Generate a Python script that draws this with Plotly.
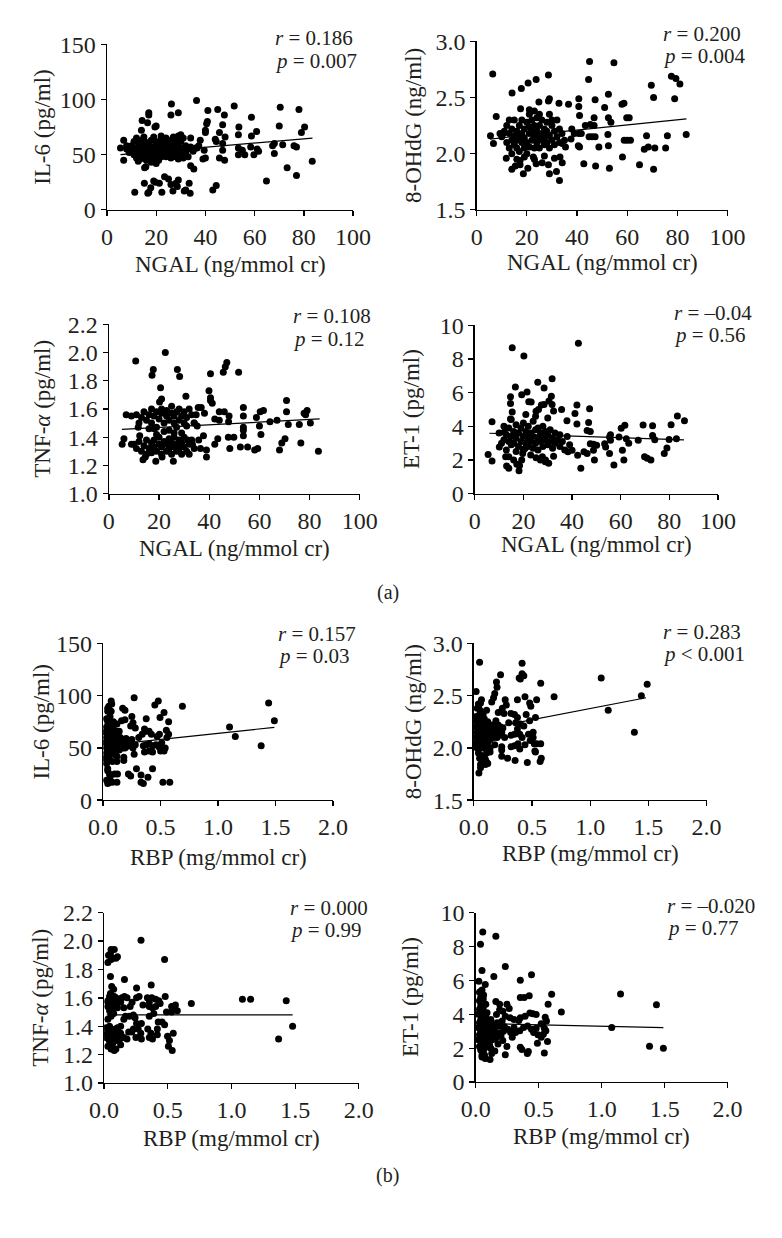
import plotly.graph_objects as go

W, H = 782, 1238
FONT = "Liberation Serif"
INK = "#231f20"

# ---------------- data ----------------
NGAL_TICKS = [0, 20, 40, 60, 80, 100]
RBP_TICKS = [0.0, 0.5, 1.0, 1.5, 2.0]
IL6_TICKS = [0, 50, 100, 150]
OHDG_TICKS = [1.5, 2.0, 2.5, 3.0]
TNF_TICKS = [1.0, 1.2, 1.4, 1.6, 1.8, 2.0, 2.2]
ET1_TICKS = [0, 2, 4, 6, 8, 10]

IL6_VS_NGAL = [
    (5.5,56),(6.8,63),(6.8,45),(8,58),(26.2,96),(36.4,99),(26,86),(29,88),(17,88),(17,86),(14.3,81),(16.5,79),
    (20,76),(19.5,75),(40.5,78),(40.8,80),(41,90),(45,91),(47.7,86),(51.7,94),(58.7,84),(70.4,93),(78,91),(80.3,75),
    (79,70),(70,76),(73.2,38),(77,31),(83.4,44),(64.8,26),(71.4,59),(68,51),(67.3,58),(58.7,67),(60.8,71),(61.6,53),
    (59.7,50),(56,50),(53.4,68),(53.4,56),(53.6,75),(55,54),(58.4,57),(61,55),(53.4,50),(48,66),(47,54),(47.8,45),
    (45.7,47),(47,60),(44.4,62),(44,64),(45.7,70),(47,77),(40,70),(40,72),(40,47),(39,46),(39.5,54),(37.9,63),(34,65),
    (34,40),(35.3,37),(33.4,24),(33.8,15),(32,18),(31.4,17),(29,27),(28.6,21),(28,24),(26.8,17),(26,23),(25,28),
    (23.4,30),(22.3,16),(21.3,24),(19.7,25),(19,26),(17.8,20),(17,16),(16.6,15),(15.2,24),(11.3,16),(44.4,22),(43,18),
    (15.3,38),(15.8,39),(15.2,48),(13.5,46),(12,47),(12.7,44),(36.6,56),(37.3,58),(76,58),(77,57),(68,60),
    (8,55),(9,52),(10,58),(11,50),(11,62),(12,56),(12,65),(13,48),(13,53),(13,60),(14,55),(14,72),(14,58),(15,50),
    (15,62),(15,66),(16,52),(16,57),(16,45),(17,60),(17,55),(17,50),(18,63),(18,48),(18,57),(19,52),(19,66),(19,44),
    (20,55),(20,60),(20,50),(21,62),(21,57),(21,45),(22,53),(22,67),(22,48),(23,58),(23,52),(23,62),(24,55),(24,48),
    (24,65),(25,57),(25,51),(25,60),(26,54),(26,47),(26,63),(27,58),(27,50),(27,66),(28,55),(28,48),(28,60),(29,53),
    (29,57),(30,50),(30,62),(30,68),(31,55),(31,47),(32,52),(32,58),(33,55),(33,48),(34,57),(35,53),(36,56),(24,58),
    (22,56),(20,47),(26,58),(18,53),(16,61),(14,63),(12,52),(10,54),(28,64),(29,67),(30,56),(21,52),(23,49),(25,54),
    (27,54),(20,42),(18,43),(31,65),(29,46),
]
IL6_NGAL_FIT = [(5.5, 50.0), (83.5, 65.0)]

OHDG_VS_NGAL = [
    (6.4,2.71),(7.8,2.33),(6.7,2.09),(5.5,2.16),(14.1,2.54),(17.8,2.58),(20.5,2.63),(23.7,2.66),(28.6,2.70),(28.6,2.47),
    (29,2.49),(24.8,2.46),(21,2.39),(17.5,2.40),(23,2.38),(29,2.35),(32.8,2.45),(36.6,2.44),(40.7,2.49),(40.7,2.42),
    (41,2.34),(45,2.82),(44.6,2.66),(54.7,2.81),(47.2,2.48),(52.5,2.53),(46.8,2.32),(52.5,2.32),(51,2.41),(57.9,2.44),
    (58.7,2.45),(59.8,2.32),(60.8,2.32),(69.6,2.61),(70.5,2.5),(77.6,2.69),(79.4,2.67),(81,2.62),(78.9,2.49),(76,2.16),
    (83.5,2.17),(67.7,2.16),(68.4,2.06),(66.8,2.04),(71,2.05),(75.3,2.05),(64.9,1.9),(70.5,1.86),(58.8,2.12),(60,2.12),
    (61.3,2.12),(58.1,1.97),(52.5,2.07),(52.9,1.87),(52.3,2.17),(53.5,2.28),(48.7,2.06),(47.4,1.89),(42.7,1.91),(41,2.06),
    (40.5,2.07),(40.7,2.18),(41.7,2.18),(43.3,2.25),(45.3,2.26),(46.8,2.25),(47.2,2.15),(44.8,2.15),(46,2.15),(37.9,2.22),
    (38.9,2.18),(37.6,2.13),(34.1,2.09),(35.4,2.06),(33.2,1.97),(34.1,1.92),(33,1.76),(31.8,1.84),(29,1.82),(28.6,1.9),
    (26.1,1.92),(23.7,1.91),(22.6,1.97),(20.4,1.87),(18.6,1.82),(17.3,1.9),(17.3,1.94),(15.4,1.89),(14,1.86),(11.8,1.96),
    (9.3,2.18),(10.6,2.18),
    (10,2.15),(11,2.2),(12,2.1),(12,2.25),(13,2.05),(13,2.18),(14,2.12),(14,2.22),(14,2.0),(15,2.08),(15,2.3),(15,2.16),
    (16,2.05),(16,2.2),(16,2.12),(17,2.25),(17,2.02),(17,2.15),(18,2.1),(18,2.3),(18,2.18),(19,2.05),(19,2.22),(19,2.14),
    (20,2.28),(20,2.1),(20,2.0),(21,2.18),(21,2.24),(21,2.06),(22,2.12),(22,2.3),(22,2.2),(23,2.15),(23,2.05),(23,2.25),
    (24,2.1),(24,2.2),(24,2.32),(25,2.15),(25,2.05),(25,2.25),(26,2.12),(26,2.18),(26,2.3),(27,2.08),(27,2.22),(27,2.15),
    (28,2.1),(28,2.28),(28,2.2),(29,2.05),(29,2.16),(30,2.12),(30,2.25),(30,2.3),(31,2.2),(31,2.08),(32,2.15),(32,2.3),
    (33,2.1),(33,2.22),(34,2.18),(35,2.12),(19,1.97),(23,1.95),(27,1.98),(31,1.96),(16,1.95),(13,2.3),(21,2.35),(25,2.35),
]
OHDG_NGAL_FIT = [(5.3, 2.13), (83.6, 2.31)]

TNF_VS_NGAL = [
    (10.7,1.94),(22.5,2.0),(17.7,1.88),(17.2,1.84),(27.3,1.88),(28.2,1.83),(20.6,1.75),(21,1.67),(20.2,1.65),(30.7,1.69),
    (39.9,1.73),(40.5,1.68),(40.5,1.66),(41.2,1.64),(40.5,1.85),(45.6,1.86),(46.4,1.90),(47,1.93),(51.7,1.86),(6.9,1.56),
    (6,1.39),(5.3,1.35),(9,1.35),(11.7,1.47),(12.3,1.41),(13.6,1.24),(14.5,1.26),(18.7,1.23),(25.7,1.23),(21.2,1.26),
    (35.8,1.38),(36.5,1.32),(38.9,1.26),(38.9,1.31),(37.7,1.41),(42.2,1.35),(43.4,1.39),(48.2,1.32),(49.8,1.40),(47.6,1.40),
    (53.6,1.55),(53.6,1.61),(53.6,1.45),(53.6,1.47),(53.6,1.41),(52.4,1.33),(55.3,1.33),(58.1,1.31),(59.3,1.32),(60,1.48),
    (60.6,1.42),(60.3,1.58),(61.6,1.59),(58.8,1.54),(64.2,1.51),(67,1.52),(68,1.31),(68.9,1.36),(70.2,1.39),(70.8,1.58),
    (70.8,1.66),(71.5,1.49),(75.9,1.49),(76.5,1.36),(77.8,1.57),(79,1.59),(78.4,1.56),(80.3,1.50),(83.5,1.30),
    (42.2,1.53),(44,1.58),(46,1.58),(47.9,1.55),(47.7,1.51),(44,1.52),(38.1,1.57),(36.8,1.61),(35.6,1.61),(34.8,1.56),
    (34,1.50),(35.2,1.48),(33.3,1.35),(32,1.28),(31.4,1.38),
    (9,1.55),(11,1.56),(12,1.5),(13,1.54),(14,1.58),(15,1.52),(16,1.56),(17,1.6),(17,1.5),(18,1.55),(19,1.58),(19,1.47),
    (20,1.53),(21,1.57),(21,1.6),(22,1.5),(23,1.55),(23,1.59),(24,1.52),(25,1.57),(25,1.62),(26,1.5),(26,1.55),(27,1.58),
    (28,1.52),(28,1.6),(29,1.55),(30,1.5),(30,1.58),(31,1.54),(32,1.6),(33,1.56),(34,1.5),(24,1.45),(18,1.46),(27,1.47),
    (31,1.48),(22,1.44),(16,1.46),(29,1.43),
    (10,1.35),(11,1.32),(12,1.37),(13,1.3),(14,1.34),(15,1.38),(15,1.28),(16,1.32),(17,1.36),(17,1.29),(18,1.33),(18,1.38),
    (19,1.3),(20,1.35),(20,1.4),(21,1.28),(21,1.33),(22,1.37),(23,1.3),(23,1.35),(24,1.39),(24,1.32),(25,1.28),(25,1.36),
    (26,1.33),(26,1.4),(27,1.3),(27,1.35),(28,1.38),(28,1.32),(29,1.28),(29,1.36),(30,1.33),(30,1.4),(31,1.3),(32,1.35),
    (33,1.38),(34,1.32),(19,1.42),(26,1.43),
]
TNF_NGAL_FIT = [(5.2, 1.455), (84.0, 1.53)]

ET1_VS_NGAL = [
    (15.4,8.66),(20.2,8.17),(42.6,8.93),(31.8,6.82),(25.9,6.62),(28.5,6.27),(16.7,6.33),(14.7,5.75),(19.3,5.88),(21.5,6.04),
    (22.2,5.46),(23.2,5.44),(31.5,5.79),(30.5,5.5),(31.8,5.3),(32.4,4.91),(26.2,5.0),(27.4,5.26),(28.5,5.3),(25.2,4.9),
    (42,5.26),(41.2,4.76),(47.2,5.05),(35.7,5.0),(37.9,4.33),(42,4.14),(46.8,4.23),(46.2,3.75),(47.5,3.69),(47.5,2.97),
    (48.8,2.58),(49.2,2.0),(43.6,1.51),(42.3,2.29),(40,2.58),(38.3,2.49),(44.9,2.49),(46.2,2.39),(48.8,2.93),(50.1,2.87),
    (53.4,2.97),(53.8,2.78),(55.4,3.36),(55.8,3.17),(55.4,2.39),(57.2,1.71),(55.8,3.5),(59.3,3.36),(60.2,3.88),(61.7,4.07),
    (61.3,2.0),(60.7,2.58),(62.3,3.26),(63.3,3.0),(67.2,3.17),(69.2,4.08),(69.8,2.19),(70.9,2.1),(72.4,2.0),(73.1,4.04),
    (73.1,3.46),(74,3.2),(77.9,2.39),(79,2.72),(79.9,3.22),(80.7,4.1),(82.9,3.26),(83.3,4.62),(86.2,4.33),(5.5,2.33),
    (7.1,4.27),(7.1,1.94),(10.1,2.78),(12.1,3.65),(12.7,2.19),(13.1,1.65),(14,1.51),(18.2,1.36),(18.4,1.67),(17.3,1.75),
    (19.3,2.0),(19.7,2.39),(20.6,2.68),(25.2,2.14),(27.8,2.19),(29.1,2.0),(30.4,1.81),(32.4,2.23),(14.7,5.36),(15.4,4.85),
    (14.7,4.43),
    (10,3.6),(11,3.0),(12,3.2),(12,4.0),(13,2.6),(13,3.5),(14,3.1),(14,3.9),(15,2.9),(15,3.4),(15,4.4),(16,3.0),(16,3.7),
    (17,2.5),(17,3.3),(17,4.1),(18,2.8),(18,3.6),(19,3.1),(19,3.9),(20,2.6),(20,3.4),(20,4.2),(21,3.0),(21,3.7),(22,2.8),
    (22,3.3),(22,4.0),(23,3.1),(23,3.6),(24,2.7),(24,3.4),(24,4.3),(25,3.0),(25,3.8),(26,2.6),(26,3.3),(26,3.9),(27,3.1),
    (27,3.6),(28,2.8),(28,3.4),(28,4.0),(29,3.2),(29,3.7),(30,2.9),(30,3.5),(31,3.1),(31,3.8),(32,2.7),(32,3.3),(33,3.0),
    (33,3.6),(34,3.2),(35,2.8),(35,3.5),(36,3.1),(37,2.6),(38,3.4),(39,2.9),(14,2.2),(16,2.0),(23,2.3),(27,2.0),(29,1.9),
    (25,4.6),(30,4.5),(21,4.7),
]
ET1_NGAL_FIT = [(6.0, 3.59), (86.0, 3.20)]

IL6_VS_RBP = [
    (0.27,98),(0.48,95),(0.45,91),(0.69,90),(0.07,95),(0.075,92),(0.04,88),(0.17,88),(0.19,86),(0.07,85),(0.25,80),
    (0.375,78),(0.495,79),(0.53,84),(0.57,75),(0.16,76),(0.19,77),(0.26,74),(0.24,71),(0.28,69),(0.36,68),(0.375,66),
    (0.4,66),(0.42,63),(0.49,63),(0.55,67),(0.57,63),(0.555,60),(0.47,61),(0.34,63),(0.31,60),(0.28,53),(0.35,52),
    (0.375,53),(0.4,54),(0.43,52),(0.46,53),(0.485,51),(0.51,55),(0.54,50),(0.53,47),(0.5,47),(0.43,46),(0.4,47),
    (0.36,46),(0.27,44),(0.26,50),(0.19,50),(0.18,41),(0.18,38),(0.12,42),(0.12,37),(0.08,37),(0.05,39),(0.29,30),
    (0.43,30),(0.22,25),(0.24,23),(0.33,24),(0.33,17),(0.35,16),(0.39,22),(0.52,17),(0.58,17),(0.04,28),(0.055,25),
    (0.1,25),(0.125,25),(0.04,16),(0.055,17),(0.08,17),(0.12,17),(0.06,22),(0.03,19),
    (1.1,70),(1.15,61),(1.375,52),(1.44,93),(1.49,76),
    (0.02,55),(0.02,65),(0.03,50),(0.03,60),(0.03,70),(0.03,45),(0.04,53),(0.04,58),(0.04,63),(0.04,75),(0.05,48),
    (0.05,55),(0.05,60),(0.05,68),(0.05,42),(0.06,52),(0.06,57),(0.06,62),(0.06,72),(0.06,80),(0.07,50),(0.07,55),
    (0.07,65),(0.07,46),(0.08,53),(0.08,58),(0.08,61),(0.08,70),(0.09,49),(0.09,56),(0.09,63),(0.1,52),(0.1,58),
    (0.1,67),(0.11,47),(0.11,55),(0.11,61),(0.12,50),(0.12,57),(0.12,64),(0.13,53),(0.13,59),(0.14,48),(0.14,56),
    (0.15,52),(0.15,60),(0.16,55),(0.17,50),(0.17,58),(0.18,53),(0.19,56),(0.2,51),(0.2,59),(0.21,54),(0.22,57),
    (0.23,52),(0.24,55),(0.25,58),(0.03,78),(0.04,85),(0.05,90),(0.02,40),(0.03,35),(0.04,30),(0.06,45),(0.08,44),
    (0.1,44),(0.12,73),(0.14,66),(0.09,75),
]
IL6_RBP_FIT = [(0.03, 52.6), (1.49, 69.7)]

OHDG_VS_RBP = [
    (0.05,2.82),(0.415,2.81),(0.415,2.71),(0.43,2.69),(0.4,2.66),(0.39,2.67),(0.23,2.70),(0.195,2.63),(0.2,2.58),
    (0.575,2.62),(0.69,2.49),(0.02,2.54),(0.17,2.48),(0.18,2.52),(0.154,2.44),(0.27,2.46),(0.28,2.41),(0.375,2.46),
    (0.48,2.43),(0.49,2.40),(0.44,2.49),(0.54,2.46),(0.53,2.29),(0.45,2.32),(0.48,2.26),(0.066,2.46),(0.058,2.43),
    (0.044,2.38),(0.02,2.29),(0.11,2.36),(0.245,2.38),(0.21,2.34),(0.26,2.33),(0.32,2.33),(0.35,2.32),(0.375,2.29),
    (0.3,2.24),(0.36,2.24),(0.4,2.23),(0.43,2.21),(0.375,2.18),(0.35,2.13),(0.395,2.13),(0.415,2.10),(0.38,2.04),
    (0.32,2.12),(0.25,2.19),(0.24,2.15),(0.2,2.10),(0.176,2.13),(0.265,2.10),(0.51,2.15),(0.51,2.10),(0.52,2.04),
    (0.44,2.03),(0.395,1.99),(0.32,2.01),(0.35,2.02),(0.18,2.03),(0.24,2.01),(0.24,1.98),(0.14,2.0),(0.14,1.96),
    (0.24,1.92),(0.29,1.90),(0.355,1.88),(0.46,1.86),(0.525,1.97),(0.53,1.96),(0.54,2.04),(0.575,2.04),(0.58,1.90),
    (0.57,1.87),(0.485,2.07),(0.47,2.13),(0.113,1.86),(0.1,1.89),(0.085,1.87),(0.1,1.84),(0.058,1.81),(0.044,1.76),
    (0.058,1.84),(0.016,2.01),
    (1.095,2.67),(1.155,2.36),(1.38,2.15),(1.44,2.5),(1.49,2.61),
    (0.02,2.1),(0.02,2.2),(0.02,2.3),(0.03,2.0),(0.03,2.15),(0.03,2.25),(0.03,2.05),(0.04,2.12),(0.04,2.18),(0.04,2.28),
    (0.04,1.95),(0.05,2.08),(0.05,2.14),(0.05,2.22),(0.05,2.32),(0.05,2.0),(0.06,2.1),(0.06,2.17),(0.06,2.25),(0.06,1.93),
    (0.07,2.05),(0.07,2.12),(0.07,2.2),(0.07,2.3),(0.08,2.0),(0.08,2.15),(0.08,2.24),(0.09,2.08),(0.09,2.18),(0.09,2.28),
    (0.1,2.02),(0.1,2.13),(0.1,2.22),(0.11,2.1),(0.11,2.19),(0.12,2.05),(0.12,2.15),(0.12,2.25),(0.13,2.12),(0.14,2.2),
    (0.14,2.08),(0.15,2.15),(0.16,2.22),(0.17,2.1),(0.18,2.18),(0.19,2.26),(0.2,2.16),(0.21,2.22),(0.22,2.12),(0.23,2.2),
    (0.03,2.38),(0.04,2.42),(0.06,2.35),(0.08,2.32),(0.05,1.9),(0.07,1.88),(0.09,1.92),(0.11,1.95),(0.13,1.97),(0.12,1.85),
]
OHDG_RBP_FIT = [(0.04, 2.17), (1.48, 2.48)]

TNF_VS_RBP = [
    (0.29,2.006),(0.475,1.87),(0.055,1.94),(0.08,1.94),(0.035,1.90),(0.05,1.91),(0.068,1.88),(0.093,1.88),(0.105,1.89),
    (0.03,1.85),(0.055,1.87),(0.05,1.75),(0.16,1.73),(0.37,1.69),(0.255,1.67),(0.06,1.68),(0.075,1.66),(0.05,1.63),
    (0.043,1.61),(0.08,1.61),(0.48,1.61),(0.685,1.56),(0.14,1.60),(0.16,1.61),(0.18,1.60),(0.22,1.57),(0.255,1.60),
    (0.275,1.61),(0.34,1.60),(0.355,1.57),(0.375,1.60),(0.405,1.59),(0.43,1.58),(0.44,1.56),(0.53,1.54),(0.54,1.54),
    (0.56,1.55),(0.575,1.51),(0.53,1.50),(0.49,1.50),(0.405,1.54),(0.38,1.53),(0.355,1.54),(0.305,1.55),(0.093,1.55),
    (0.105,1.53),(0.13,1.57),(0.155,1.53),(0.205,1.54),(0.23,1.48),(0.243,1.46),(0.2,1.47),(0.155,1.45),(0.168,1.47),
    (0.355,1.47),(0.39,1.49),(0.425,1.43),(0.455,1.43),(0.475,1.41),(0.418,1.38),(0.368,1.35),(0.343,1.38),(0.293,1.42),
    (0.255,1.42),(0.268,1.38),(0.23,1.38),(0.218,1.36),(0.193,1.36),(0.288,1.35),(0.25,1.32),(0.293,1.31),(0.355,1.32),
    (0.38,1.31),(0.418,1.34),(0.498,1.33),(0.513,1.30),(0.505,1.26),(0.535,1.23),(0.543,1.35),(0.155,1.32),(0.18,1.31),
    (0.118,1.30),(0.13,1.27),(0.093,1.24),(0.08,1.23),(0.055,1.24),(0.03,1.26),(0.068,1.28),(0.043,1.31),(0.018,1.32),
    (0.025,1.35),(0.018,1.39),(0.043,1.40),(0.055,1.38),(0.08,1.36),(0.105,1.34),(0.13,1.35),(0.093,1.32),(0.068,1.33),
    (0.075,1.30),(0.05,1.34),(0.105,1.39),(0.13,1.40),(0.143,1.32),(0.03,1.54),(0.055,1.56),(0.043,1.51),(0.075,1.49),
    (0.055,1.47),(0.03,1.45),(0.068,1.58),(0.093,1.60),(0.03,1.57),(0.055,1.61),
    (1.086,1.59),(1.15,1.59),(1.43,1.58),(1.37,1.31),(1.48,1.40),
    (0.03,1.58),(0.04,1.55),(0.05,1.6),(0.06,1.52),(0.07,1.57),(0.08,1.54),(0.09,1.58),(0.1,1.56),(0.03,1.36),(0.04,1.3),
    (0.05,1.33),(0.06,1.37),(0.07,1.29),(0.08,1.34),(0.09,1.38),(0.1,1.3),(0.11,1.36),(0.12,1.33),
]
TNF_RBP_FIT = [(0.02, 1.48), (1.48, 1.48)]

ET1_VS_RBP = [
    (0.056,8.86),(0.038,8.13),(0.16,8.61),(0.05,6.59),(0.235,6.82),(0.144,6.24),(0.443,6.34),(0.354,6.01),(0.025,5.95),
    (0.076,5.76),(0.05,5.43),(0.038,5.34),(0.063,5.14),(0.603,5.18),(0.575,4.6),(0.68,4.14),(1.08,3.22),(1.15,5.2),
    (1.435,4.57),(1.38,2.12),(1.49,2.0),(0.354,4.99),(0.385,4.99),(0.425,5.09),(0.16,4.76),(0.19,4.6),(0.248,4.6),
    (0.266,4.34),(0.19,4.27),(0.215,4.18),(0.165,3.99),(0.235,3.89),(0.273,3.8),(0.304,3.7),(0.342,3.64),(0.354,3.8),
    (0.392,3.89),(0.43,4.08),(0.455,4.03),(0.48,3.99),(0.552,3.83),(0.562,3.6),(0.52,3.45),(0.48,3.18),(0.53,3.41),
    (0.545,3.18),(0.557,3.03),(0.537,2.83),(0.52,2.64),(0.494,2.79),(0.49,2.29),(0.57,2.39),(0.545,1.71),(0.418,1.81),
    (0.41,1.68),(0.354,2.06),(0.367,1.93),(0.235,1.62),(0.248,2.1),(0.29,2.64),(0.316,2.93),(0.35,3.03),(0.38,3.22),
    (0.412,3.31),(0.443,3.12),(0.46,2.93),(0.2,2.83),(0.215,2.45),(0.177,2.25),(0.152,2.54),(0.139,2.83),(0.114,3.03),
    (0.134,3.31),(0.165,3.45),(0.2,3.51),(0.228,3.26),(0.253,3.12),(0.278,2.93),(0.304,3.22),(0.076,1.39),(0.114,1.33),
    (0.05,1.48),(0.127,1.68),(0.152,1.83),
    (0.02,2.5),(0.02,3.2),(0.02,4.0),(0.03,2.1),(0.03,2.8),(0.03,3.5),(0.03,4.3),(0.03,4.8),(0.04,1.9),(0.04,2.4),
    (0.04,3.0),(0.04,3.7),(0.04,4.5),(0.05,2.2),(0.05,2.7),(0.05,3.3),(0.05,3.9),(0.05,4.2),(0.06,1.8),(0.06,2.5),
    (0.06,3.1),(0.06,3.6),(0.06,4.4),(0.07,2.0),(0.07,2.9),(0.07,3.4),(0.07,4.0),(0.08,2.3),(0.08,2.6),(0.08,3.2),
    (0.08,3.8),(0.09,2.1),(0.09,2.8),(0.09,3.5),(0.09,4.1),(0.1,2.4),(0.1,3.0),(0.1,3.6),(0.11,2.2),(0.11,3.3),
    (0.11,2.7),(0.12,2.0),(0.12,3.1),(0.12,3.7),(0.13,2.5),(0.13,3.4),(0.14,2.9),(0.15,3.2),(0.16,2.6),(0.17,3.5),
    (0.18,2.9),(0.19,3.3),(0.2,2.7),(0.21,3.6),(0.22,3.0),(0.03,5.3),(0.04,5.0),(0.06,4.9),(0.08,4.6),(0.07,1.6),
    (0.05,1.6),
]
ET1_RBP_FIT = [(0.03, 3.46), (1.49, 3.22)]

STATS = [
    ("0.186", "= 0.007"), ("0.200", "= 0.004"), ("0.108", "= 0.12"), ("–0.04", "= 0.56"),
    ("0.157", "= 0.03"), ("0.283", "< 0.001"), ("0.000", "= 0.99"), ("–0.020", "= 0.77"),
]
X_TITLES = ["NGAL (ng/mmol cr)"] * 4 + ["RBP (mg/mmol cr)"] * 4
Y_TITLES = ["IL-6 (pg/ml)", "8-OHdG (ng/ml)", "TNF-<i>α</i> (pg/ml)", "ET-1 (pg/ml)"] * 2
PANEL_LABELS = ["(a)", "(b)"]

# ---------------- layout (pixel geometry) ----------------
panels = [
    # data, fit, xticks, yticks, x-domain px, y-domain px (top, bottom)
    (IL6_VS_NGAL, IL6_NGAL_FIT, NGAL_TICKS, IL6_TICKS, (96, 353), (32, 201)),
    (OHDG_VS_NGAL, OHDG_NGAL_FIT, NGAL_TICKS, OHDG_TICKS, (482, 744), (29, 201)),
    (TNF_VS_NGAL, TNF_NGAL_FIT, NGAL_TICKS, TNF_TICKS, (98, 360), (318, 491)),
    (ET1_VS_NGAL, ET1_NGAL_FIT, NGAL_TICKS, ET1_TICKS, (480, 734), (319, 491)),
    (IL6_VS_RBP, IL6_RBP_FIT, RBP_TICKS, IL6_TICKS, (92, 332), (644, 804)),
    (OHDG_VS_RBP, OHDG_RBP_FIT, RBP_TICKS, OHDG_TICKS, (479, 722), (644, 804)),
    (TNF_VS_RBP, TNF_RBP_FIT, RBP_TICKS, TNF_TICKS, (93, 359), (919, 1093)),
    (ET1_VS_RBP, ET1_RBP_FIT, RBP_TICKS, ET1_TICKS, (481, 744), (919, 1092)),
]
# left x, centre y of the r line, centre y of the p line
stat_pos = [(269, 26, 49), (674, 21, 44), (288, 310, 333), (686, 306, 329),
            (273, 634, 657), (674, 632, 655), (285, 914, 937), (679, 912, 935)]
ytitle_pos = [28, 416, 28, 414, 28, 416, 27, 413]
xtitle_y = [257, 255, 547, 543, 863, 859, 1150, 1148]
label_pos = [(389, 592), (389, 1187)]

def px(x):
    return x / W

def py(y):
    return 1 - y / H

fig = go.Figure()
layout = dict(
    width=W, height=H, margin=dict(l=0, r=0, t=0, b=0),
    paper_bgcolor="white", plot_bgcolor="white", showlegend=False,
    font=dict(family=FONT, size=22, color=INK), hovermode=False,
)
annotations = []

for i, (data, fit, xt, yt, (x0, x1), (ytop, ybot)) in enumerate(panels):
    n = i + 1
    xa = "x" if n == 1 else f"x{n}"
    ya = "y" if n == 1 else f"y{n}"
    xs = [p[0] for p in data]
    ys = [p[1] for p in data]
    fig.add_trace(go.Scatter(x=xs, y=ys, mode="markers", xaxis=xa, yaxis=ya,
                             marker=dict(color="black", size=7, line=dict(width=0)),
                             hoverinfo="skip"))
    fig.add_trace(go.Scatter(x=[p[0] for p in fit], y=[p[1] for p in fit], mode="lines",
                             xaxis=xa, yaxis=ya, line=dict(color="black", width=1.2),
                             hoverinfo="skip"))
    dec_x = isinstance(xt[1], float)
    dec_y = isinstance(yt[1], float)
    axis_common = dict(showline=True, linecolor="black", linewidth=1.3, ticks="outside",
                       ticklen=5, tickwidth=1.3, tickcolor="black", showgrid=False,
                       zeroline=False, fixedrange=True,
                       tickfont=dict(family=FONT, size=24, color=INK))
    layout["xaxis" if n == 1 else f"xaxis{n}"] = dict(
        domain=[px(x0), px(x1)], range=[xt[0], xt[-1]], tickvals=xt,
        ticktext=[f"{v:.1f}" if dec_x else f"{v}" for v in xt],
        anchor=ya, **axis_common)
    layout["yaxis" if n == 1 else f"yaxis{n}"] = dict(
        domain=[py(ybot), py(ytop)], range=[yt[0], yt[-1]], tickvals=yt,
        ticktext=[f"{v:.1f}" if dec_y else f"{v}" for v in yt],
        anchor=xa, **axis_common)

    r_txt, p_txt = STATS[i]
    sx, ry, pyy = stat_pos[i]
    annotations.append(dict(x=px(sx), y=py(ry), xref="paper", yref="paper", xanchor="left",
                            yanchor="middle", showarrow=False, text=f"<i>r</i> = {r_txt}",
                            font=dict(family=FONT, size=21, color=INK)))
    annotations.append(dict(x=px(sx), y=py(pyy), xref="paper", yref="paper", xanchor="left",
                            yanchor="middle", showarrow=False, text=f"<i>p</i> {p_txt}",
                            font=dict(family=FONT, size=21, color=INK)))
    annotations.append(dict(x=px(ytitle_pos[i]), y=py((ytop + ybot) / 2), xref="paper", yref="paper",
                            xanchor="center", yanchor="middle", textangle=-90, showarrow=False,
                            text=Y_TITLES[i], font=dict(family=FONT, size=23, color=INK)))
    annotations.append(dict(x=px((x0 + x1) / 2), y=py(xtitle_y[i]), xref="paper", yref="paper",
                            xanchor="center", yanchor="middle", showarrow=False,
                            text=X_TITLES[i], font=dict(family=FONT, size=23, color=INK)))

for lab, (lx, ly) in zip(PANEL_LABELS, label_pos):
    annotations.append(dict(x=px(lx), y=py(ly), xref="paper", yref="paper", xanchor="center",
                            yanchor="middle", showarrow=False, text=lab,
                            font=dict(family=FONT, size=20, color=INK)))

layout["annotations"] = annotations
fig.update_layout(**layout)
# the page body has a default 8px margin; remove it so the figure sits at the window origin
fig.write_html("out.html", config={"displayModeBar": False, "staticPlot": True},
               post_script="document.body.style.margin='0';")
